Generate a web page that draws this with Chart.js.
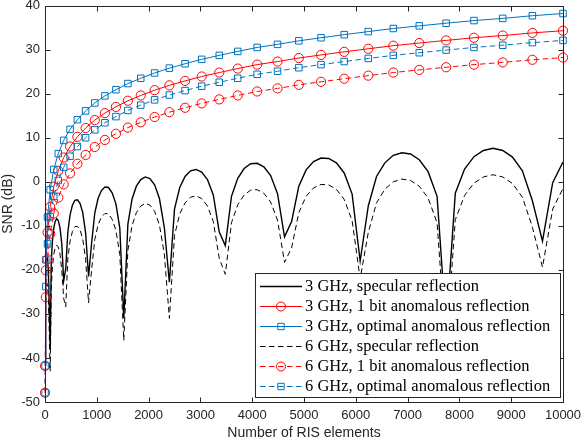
<!DOCTYPE html>
<html lang="en">
<head>
<meta charset="UTF-8">
<title>SNR vs number of RIS elements</title>
<script src="https://cdn.jsdelivr.net/npm/chart.js"></script>
<style>
    body { margin: 0; background: #fff; }
    #canvas { display: block; }
</style>
</head>
<body>
<canvas id="canvas" width="582" height="442"></canvas>
<script>
// number of RIS elements (n x n arrays) used for the specular curves
const specN = [
    1, 4, 9, 16, 25, 36, 49, 64, 81, 100,
    121, 144, 169, 196, 225, 256, 289, 324, 361, 400,
    441, 484, 529, 576, 625, 676, 729, 784, 841, 900,
    961, 1024, 1089, 1156, 1225, 1296, 1369, 1444, 1521, 1600,
    1681, 1764, 1849, 1936, 2025, 2116, 2209, 2304, 2401, 2500,
    2601, 2704, 2809, 2916, 3025, 3136, 3249, 3364, 3481, 3600,
    3721, 3844, 3969, 4096, 4225, 4356, 4489, 4624, 4761, 4900,
    5041, 5184, 5329, 5476, 5625, 5776, 5929, 6084, 6241, 6400,
    6561, 6724, 6889, 7056, 7225, 7396, 7569, 7744, 7921, 8100,
    8281, 8464, 8649, 8836, 9025, 9216, 9409, 9604, 9801, 10000
]
// SNR (dB), specular reflection
const spec3 = [
    -40.1, -29.5, -23.6, -20.0, -17.9, -17.1, -17.6, -20.1, -27.6, -38.0,
    -18.1, -13.3, -10.5, -9.0, -8.4, -8.8, -10.4, -14.1, -22.5, -19.8,
    -11.4, -7.5, -5.3, -4.2, -4.1, -4.9, -7.0, -11.6, -21.5, -13.9,
    -7.1, -3.8, -2.0, -1.2, -1.3, -2.5, -5.0, -10.5, -31.0, -9.6,
    -3.9, -1.0, 0.5, 1.1, 0.7, -0.7, -3.8, -10.4, -22.8, -6.2,
    -1.3, 1.2, 2.5, 2.8, 2.2, 0.5, -3.0, -11.4, -14.5, -3.3,
    0.8, 3.0, 4.1, 4.2, 3.4, 1.4, -2.7, -12.5, -9.0, -1.0,
    2.7, 4.6, 5.4, 5.3, 4.3, 2.0, -2.8, -18.0, -5.5, 1.2,
    4.3, 6.0, 6.6, 6.3, 5.0, 2.3, -3.3, -33.0, -2.6, 2.9,
    5.7, 7.1, 7.6, 7.1, 5.6, 2.5, -4.3, -13.5, -0.2, 4.5
]
const spec6 = [
    -46.1, -35.5, -29.6, -26.0, -23.9, -23.1, -23.6, -26.1, -33.6, -43.0,
    -24.1, -19.3, -16.5, -15.0, -14.4, -14.8, -16.4, -20.1, -26.5, -28.4,
    -17.4, -13.5, -11.3, -10.2, -10.1, -10.9, -13.0, -17.6, -27.5, -19.9,
    -13.1, -9.8, -8.0, -7.2, -7.3, -8.5, -11.0, -16.5, -36.0, -15.6,
    -9.9, -7.0, -5.5, -4.9, -5.3, -6.7, -9.8, -16.4, -31.0, -12.2,
    -7.3, -4.8, -3.5, -3.2, -3.8, -5.5, -9.0, -17.4, -21.0, -9.3,
    -5.2, -3.0, -1.9, -1.8, -2.6, -4.6, -8.7, -18.3, -15.0, -7.0,
    -3.3, -1.4, -0.6, -0.7, -1.7, -4.0, -8.8, -22.0, -11.5, -4.8,
    -1.7, 0.0, 0.6, 0.3, -1.0, -3.7, -9.3, -38.0, -8.6, -3.1,
    -0.3, 1.1, 1.6, 1.1, -0.4, -3.5, -10.3, -19.4, -6.2, -1.5
]

// marker positions of the anomalous reflection curves
const anomN = [
    1, 16, 49, 100, 169, 256, 361, 484, 625, 784, 961, 1156,
    1369, 1600, 1849, 2116, 2401, 2704, 3025, 3364, 3721, 4096,
    4489, 4900, 5329, 5776, 6241, 6724, 7225, 7744, 8281, 8836, 9409, 10000
]
const bit3 = [
    -41.8, -20.1, -11.5, -5.7, -1.1, 2.5, 5.5, 8.0, 10.2, 12.2, 14.0, 15.6,
    17.0, 18.4, 19.6, 20.8, 21.9, 22.9, 23.9, 24.8, 25.7, 26.6,
    27.3, 28.1, 28.8, 29.5, 30.2, 30.9, 31.5, 32.1, 32.7, 33.2, 33.8, 34.3
]
const opt3 = [
    -41.8, -17.7, -8.0, -1.8, 2.8, 6.4, 9.4, 11.9, 14.1, 16.1, 17.9, 19.5,
    20.9, 22.3, 23.5, 24.7, 25.8, 26.8, 27.8, 28.7, 29.6, 30.5,
    31.2, 32.0, 32.7, 33.4, 34.1, 34.8, 35.4, 36.0, 36.6, 37.1, 37.7, 38.2
]
const bit6 = [
    -47.9, -26.2, -17.6, -11.8, -7.2, -3.6, -0.6, 1.9, 4.1, 6.1, 7.9, 9.5,
    10.9, 12.3, 13.5, 14.7, 15.8, 16.8, 17.8, 18.7, 19.6, 20.5,
    21.2, 22.0, 22.7, 23.4, 24.1, 24.8, 25.4, 26.0, 26.6, 27.1, 27.7, 28.2
]
const opt6 = [
    -47.9, -23.8, -14.1, -7.9, -3.3, 0.3, 3.3, 5.8, 8.0, 10.0, 11.8, 13.4,
    14.8, 16.2, 17.4, 18.6, 19.7, 20.7, 21.7, 22.6, 23.5, 24.4,
    25.1, 25.9, 26.6, 27.3, 28.0, 28.7, 29.3, 29.9, 30.5, 31.0, 31.6, 32.1
]

const xRange = [0, 10000], xStep = 1000
const yRange = [-50, 40], yStep = 10

const RED = '#ff0000'
const BLUE = '#0072bd'
const AXIS = '#262626'
const DASH = [5.5, 3.5]

function pts(xs, ys) {
    return xs.map((x, i) => ({ x: x, y: ys[i] }))
}

function plain(label, ys, dash, order) {
    return {
        label: label, data: pts(specN, ys), order: order,
        borderColor: '#000', borderWidth: dash ? 1 : 1.4, borderDash: dash ? DASH : [],
        pointRadius: 0, tension: 0
    }
}

function marked(label, ys, color, style, dash, order) {
    return {
        label: label, data: pts(anomN, ys), order: order, clip: false,
        borderColor: color, borderWidth: 1, borderDash: dash ? DASH : [],
        pointStyle: style, pointRadius: 4.6, pointBorderWidth: 1,
        pointBorderColor: color, pointBackgroundColor: 'rgba(0,0,0,0)', tension: 0
    }
}

// axis box with inward ticks, and the legend drawn inside the plot
const frame = {
    id: 'frame',
    afterDatasetsDraw(chart) {
        const { ctx, chartArea: a, scales } = chart
        ctx.save()
        ctx.strokeStyle = AXIS
        ctx.lineWidth = 1
        const l = Math.round(a.left) + 0.5, r = Math.round(a.right) + 0.5
        const t = Math.round(a.top) + 0.5, b = Math.round(a.bottom) + 0.5
        ctx.strokeRect(l, t, r - l, b - t)
        ctx.beginPath()
        scales.x.ticks.forEach(tk => {
            const p = Math.round(scales.x.getPixelForValue(tk.value)) + 0.5
            ctx.moveTo(p, b); ctx.lineTo(p, b - 5)
            ctx.moveTo(p, t); ctx.lineTo(p, t + 5)
        })
        scales.y.ticks.forEach(tk => {
            const p = Math.round(scales.y.getPixelForValue(tk.value)) + 0.5
            ctx.moveTo(l, p); ctx.lineTo(l + 5, p)
            ctx.moveTo(r, p); ctx.lineTo(r - 5, p)
        })
        ctx.stroke()
        ctx.restore()
    },
    afterDraw(chart) {
        const { ctx, chartArea: a } = chart
        const w = 305, h = 124, rowH = 20
        const x0 = Math.round(a.right - 3 - w), y0 = Math.round(a.bottom - 5 - h)
        ctx.save()
        ctx.fillStyle = '#fff'
        ctx.fillRect(x0, y0, w, h)
        ctx.strokeStyle = AXIS
        ctx.lineWidth = 1
        ctx.strokeRect(x0 + 0.5, y0 + 0.5, w, h)
        chart.data.datasets.forEach((ds, i) => {
            const cy = y0 + 13.5 + i * rowH
            ctx.strokeStyle = ds.borderColor
            ctx.lineWidth = ds.borderWidth
            ctx.setLineDash(ds.borderDash)
            ctx.beginPath()
            ctx.moveTo(x0 + 5, cy); ctx.lineTo(x0 + 47, cy)
            ctx.stroke()
            ctx.setLineDash([])
            if (ds.pointRadius > 0) {
                const mx = x0 + 26
                ctx.lineWidth = 1
                ctx.beginPath()
                if (ds.pointStyle === 'circle') {
                    ctx.arc(mx, cy, 4.5, 0, Math.PI * 2)
                } else {
                    ctx.rect(mx - 3.2, cy - 3.2, 6.4, 6.4)
                }
                ctx.stroke()
            }
            ctx.fillStyle = '#000'
            ctx.font = '16.5px "Liberation Serif", "Times New Roman", serif'
            ctx.textBaseline = 'middle'
            ctx.fillText(ds.label, x0 + 50, cy)
        })
        ctx.restore()
    }
}

const tickFont = { family: '"Liberation Sans", Arial, sans-serif', size: 13 }
const titleFont = { family: '"Liberation Sans", Arial, sans-serif', size: 14 }

new Chart(document.getElementById('canvas'), {
    type: 'line',
    data: {
        datasets: [
            plain('3 GHz, specular reflection', spec3, false, 6),
            marked('3 GHz, 1 bit anomalous reflection', bit3, RED, 'circle', false, 5),
            marked('3 GHz, optimal anomalous reflection', opt3, BLUE, 'rect', false, 4),
            plain('6 GHz, specular reflection', spec6, true, 3),
            marked('6 GHz, 1 bit anomalous reflection', bit6, RED, 'circle', true, 2),
            marked('6 GHz, optimal anomalous reflection', opt6, BLUE, 'rect', true, 1)
        ]
    },
    options: {
        responsive: false,
        animation: false,
        layout: { padding: { top: 4, right: 19, left: 0, bottom: 0 } },
        plugins: { legend: { display: false }, tooltip: { enabled: false } },
        scales: {
            x: {
                type: 'linear', min: xRange[0], max: xRange[1],
                ticks: {
                    stepSize: xStep, font: tickFont, color: AXIS, padding: 6, maxRotation: 0, autoSkip: false,
                    callback: v => String(v)
                },
                grid: { display: false, drawTicks: false },
                border: { display: false },
                title: { display: true, text: 'Number of RIS elements', font: titleFont, color: AXIS, padding: { top: 0, bottom: 0 } },
                afterFit(s) { s.height = 40; s.paddingLeft = 0; s.paddingRight = 0 }
            },
            y: {
                type: 'linear', min: yRange[0], max: yRange[1],
                ticks: { stepSize: yStep, font: tickFont, color: AXIS, padding: 5, callback: v => String(v) },
                grid: { display: false, drawTicks: false },
                border: { display: false },
                title: { display: true, text: 'SNR (dB)', font: titleFont, color: AXIS, padding: { top: 0, bottom: 0 } },
                afterFit(s) { s.width = 45; s.paddingTop = 0; s.paddingBottom = 0 }
            }
        }
    },
    plugins: [frame]
})
</script>
</body>
</html>
